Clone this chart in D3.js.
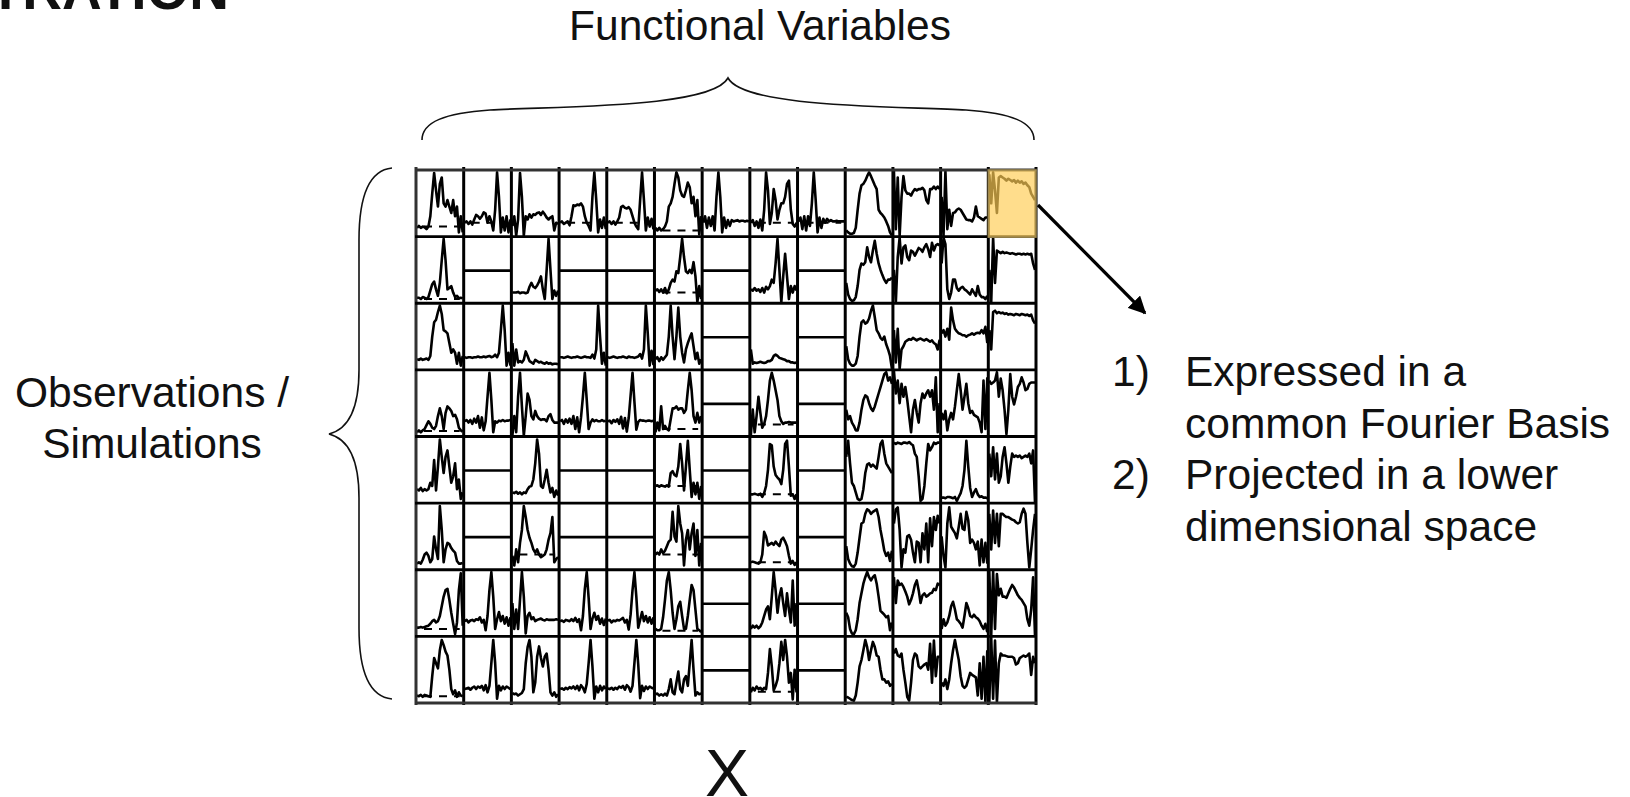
<!DOCTYPE html>
<html><head><meta charset="utf-8">
<script src="https://cdn.jsdelivr.net/npm/d3@7"></script>
<style>html,body{margin:0;padding:0;background:#fff;overflow:hidden}svg{display:block}text{font-family:"Liberation Sans",Arial,sans-serif;fill:#111}</style>
</head><body><svg id="c" width="1630" height="797"></svg>
<script>
const flat=[49,49];
const row0=[
[12,15,12,14,13,10,14,30,65,97,70,45,80,90,50,45,55,45,35,55,30,45,5,30,5],
[20,22,18,22,17,25,32,30,26,30,36,34,20,30,22,8,40,98,60,5,28,8,30,5,25],
[15,30,0,25,97,60,0,30,25,33,28,33,32,35,36,32,37,33,28,25,28,30,8,20,18],
[20,22,18,20,22,16,30,47,46,48,47,50,45,30,20,15,8,60,98,55,5,25,12,28,10],
[20,22,18,22,17,22,28,44,46,43,42,44,40,30,20,14,10,55,98,55,8,28,14,26,10],
[12,8,12,8,10,14,22,45,50,60,80,98,90,70,62,60,70,82,75,50,60,30,55,2,30],
[20,30,12,28,15,30,8,60,98,60,5,28,12,24,15,24,22,23,24,22,23,23,22,23,22],
[20,24,15,22,12,25,8,40,98,70,18,35,72,55,25,40,50,50,60,80,85,40,18,14,20],
[22,28,10,30,8,30,15,50,98,55,5,28,12,26,20,26,22,24,22,22,23,22,22,22,22],
[8,5,3,3,4,12,40,65,78,80,85,92,98,92,85,78,72,40,35,32,28,22,15,5,0],
[100,10,90,0,60,92,70,65,65,62,68,72,70,72,72,74,70,55,50,72,72,76,72,76,72],
[60,0,100,10,40,15,35,36,40,42,40,35,30,25,24,24,22,28,45,30,28,26,24,28,28],
[95,50,98,70,35,90,92,90,88,85,88,86,84,86,82,85,82,84,80,82,78,75,65,60,55]];
const row1=[
[7,7,5,8,7,5,8,18,28,32,20,10,30,65,98,65,20,22,25,15,8,10,6,7,6],
flat,
[15,15,15,16,14,15,15,14,15,24,30,24,22,26,32,40,20,5,50,98,50,5,18,10,18],
flat,flat,
[18,20,16,20,15,22,14,20,30,35,32,48,45,70,98,70,48,45,50,45,62,40,0,25,5],
flat,
[20,18,22,18,20,16,22,15,24,20,25,35,30,60,98,50,0,40,75,40,5,25,15,25,18],
flat,
[30,12,5,2,3,8,25,50,60,58,62,85,70,62,80,95,75,60,50,42,35,30,35,35,38],
[50,0,70,100,60,85,88,70,65,80,78,72,78,84,82,78,85,90,82,70,92,80,88,90,88],
[60,100,90,20,5,15,35,35,22,18,22,24,20,18,15,12,20,15,10,25,12,8,8,5,10],
[50,0,100,30,80,78,76,78,76,77,76,75,76,75,74,75,75,74,75,74,75,74,75,60,50]];
const row2=[
[15,14,16,14,15,16,14,20,50,72,76,88,98,85,60,58,55,40,25,30,25,8,25,5,20],
[18,17,18,18,17,18,18,19,18,18,19,18,19,20,18,19,22,18,25,60,98,60,5,25,5],
[40,5,30,10,12,10,14,27,20,12,10,8,14,12,10,11,9,8,10,8,9,7,8,8,7],
[18,18,17,18,19,18,17,18,18,19,18,17,18,19,18,18,17,22,16,30,98,50,8,25,5],
[18,17,18,19,18,17,18,18,19,18,17,19,18,18,17,18,19,23,16,30,98,55,5,28,6],
[15,18,12,18,14,18,22,50,98,50,15,50,95,50,25,10,30,40,48,55,35,15,25,8,15],
flat,
[30,8,10,9,10,11,10,9,10,12,12,14,20,22,20,17,16,15,14,12,12,10,10,9,10],
flat,
[35,15,8,5,5,8,20,50,72,75,70,72,78,90,98,80,60,55,48,45,50,38,30,20,0],
[60,10,62,0,30,35,42,44,46,45,48,46,44,46,47,45,44,46,44,42,44,40,38,30,45],
[55,60,50,62,45,95,75,62,58,55,54,52,52,50,52,53,55,53,55,56,55,60,55,65,40],
[60,30,88,90,86,88,86,87,85,86,84,85,84,83,85,84,83,85,84,83,84,82,84,75,70]];
const row3=[
[5,8,5,8,10,16,22,18,12,10,15,30,42,30,10,35,45,42,38,30,32,25,12,8,6],
[22,24,20,24,18,26,20,30,12,28,8,22,60,97,55,5,22,20,23,22,24,22,23,23,24],
[0,30,5,60,97,45,0,30,65,55,30,25,38,30,26,24,25,25,22,30,33,24,20,20,20],
[22,24,18,25,20,26,18,30,10,28,5,28,60,97,55,10,20,25,22,24,22,22,24,22,23],
[22,23,19,24,21,25,18,29,11,27,6,27,62,97,52,9,21,24,23,23,22,23,23,22,23],
[5,20,8,45,10,15,10,8,25,42,42,45,40,42,42,35,40,70,97,70,30,20,35,20,30],
flat,
[0,40,5,30,60,35,12,18,30,55,85,97,85,70,55,30,22,18,20,20,21,20,20,20,20],
flat,
[40,25,30,20,15,8,8,20,40,55,62,60,50,42,38,45,55,65,75,85,95,98,85,90,80],
[100,65,85,50,80,60,75,55,30,5,40,55,35,20,50,65,58,65,70,60,70,40,90,5,50],
[35,25,38,8,25,35,25,45,70,95,70,40,60,80,50,35,38,32,30,28,20,5,85,10,90],
[85,80,82,85,98,60,88,70,40,2,40,95,60,48,60,75,80,90,82,70,72,80,82,82,82]];
const row4=[
[20,18,22,17,20,18,20,30,25,65,18,55,97,70,45,70,80,55,30,40,60,20,35,5,15],
flat,
[15,14,16,13,15,12,15,14,20,24,25,35,60,97,75,25,22,35,50,30,15,22,8,18,10],
flat,flat,
[25,26,24,26,25,24,26,24,45,48,42,40,55,90,60,18,55,95,50,8,30,12,30,5,25],
flat,
[12,12,13,12,11,13,8,14,25,50,90,88,55,42,38,35,28,50,90,95,55,10,12,5,12],
flat,
[70,95,60,30,25,15,5,3,5,20,45,58,60,55,58,55,52,70,90,95,75,60,55,50,45],
[92,90,92,91,90,92,92,91,93,90,88,75,70,40,2,5,25,60,90,80,85,92,90,92,92],
[7,7,6,8,8,7,6,8,2,8,14,25,50,95,55,22,8,15,20,12,8,9,7,7,6],
[75,40,85,35,75,30,40,70,85,60,30,55,75,70,72,70,72,68,70,72,70,75,60,80,0]];
const row5=[
[8,10,8,14,22,25,20,10,15,50,30,15,97,60,10,30,40,38,32,28,25,12,8,8,9],
flat,
[20,5,30,10,40,60,97,80,60,48,40,30,25,30,22,18,20,22,30,45,55,80,10,15,18],
flat,flat,
[22,25,22,30,24,28,35,42,45,88,50,42,97,70,55,5,45,60,30,55,70,20,60,5,40],
flat,
[10,11,10,9,8,10,22,57,50,36,38,40,37,42,38,35,45,48,42,35,20,8,12,6,10],
flat,
[35,15,8,4,3,8,25,48,70,72,85,92,90,85,88,90,92,80,60,45,28,20,25,12,28],
[70,92,95,60,2,30,25,50,52,45,25,10,42,40,10,55,30,70,10,78,35,80,60,82,70],
[50,20,2,70,95,65,60,55,47,65,85,62,60,88,75,40,45,40,30,42,5,45,10,40,8],
[85,30,90,40,85,35,85,85,82,80,80,78,76,75,72,70,72,85,93,85,40,2,30,60,85]];
const row6=[
[12,12,13,12,13,14,15,18,22,24,20,22,30,45,60,70,72,55,35,18,2,20,70,96,15],
[22,24,20,23,24,22,25,24,28,20,24,8,30,70,98,60,10,25,36,22,30,18,28,15,28],
[50,10,40,10,55,98,60,3,30,35,25,28,22,24,25,26,24,23,25,24,24,24,24,25,24],
[22,23,21,24,23,22,25,22,27,21,25,8,30,72,98,58,10,26,35,24,30,18,26,16,26],
[23,24,20,23,22,24,23,25,27,20,24,9,32,70,98,60,12,24,36,22,30,20,28,18,28],
[10,8,8,10,28,55,85,98,70,35,10,25,45,52,30,10,10,30,55,78,70,40,10,8,5],
flat,
[10,15,12,15,11,14,20,30,40,45,25,60,98,70,35,60,73,50,30,65,40,20,85,15,50],
flat,
[35,28,10,3,2,8,25,50,65,80,90,98,90,85,90,93,80,60,38,35,32,28,30,8,20],
[90,50,85,78,80,75,68,60,48,55,65,78,85,70,50,62,65,60,62,65,66,72,70,80,78],
[10,25,15,20,30,45,52,40,25,22,18,12,30,50,42,30,28,32,28,26,22,15,10,18,5],
[100,0,100,10,95,62,72,60,60,58,65,72,78,74,68,62,58,55,50,45,25,15,40,90,0]];
const row7=[
[10,9,11,8,11,10,9,8,40,68,60,52,80,96,88,78,72,50,20,12,18,8,15,10,9],
[20,21,22,19,22,24,20,24,22,25,18,26,15,25,60,96,60,5,25,18,24,20,24,22,20],
[14,12,13,10,12,14,20,60,85,96,70,15,30,70,86,68,55,70,75,50,15,10,15,8,12],
[20,21,19,22,20,23,21,24,20,25,18,26,22,15,28,60,96,55,5,24,15,25,18,24,20],
[21,20,22,19,22,20,24,22,25,19,26,23,16,25,60,96,58,6,25,17,24,20,24,22,21],
[12,13,10,12,10,13,10,20,35,15,12,30,47,20,15,35,40,25,60,96,50,10,15,12,13],
flat,
[15,22,18,24,20,22,18,22,20,45,82,55,18,25,35,60,93,65,96,70,30,45,4,50,15],
flat,
[8,7,5,3,2,10,30,55,65,80,96,85,65,80,93,85,72,70,50,35,35,30,32,25,28],
[75,82,72,70,75,50,30,8,2,30,65,75,72,55,52,55,58,60,50,90,30,95,40,70,70],
[30,25,35,20,35,60,80,96,80,65,40,25,22,25,35,45,42,40,38,10,60,5,70,0,80],
[0,100,5,95,0,60,75,72,72,71,70,70,70,68,58,60,68,70,72,70,72,75,42,70,60]];
const rows=[row0,row1,row2,row3,row4,row5,row6,row7];
// dashed reference levels: [row, column, level]
const dashRow=[0,0,0,0,0,0,0,1,1,3,3,3,4,4,5,5,5,6,6,7,7];
const dashCol=[0,1,3,4,5,7,8,0,5,0,5,7,5,7,2,5,7,0,5,0,7];
const dashLevel=[14,20,20,20,8,20,20,5,15,7,10,17,25,12,22,22,10,10,7,9,16];
const highlightRow=0, highlightCol=12;
const listNumbers=["1)","","2)",""];
const listLines=["Expressed in a","common Fourier Basis","Projected in a lower","dimensional space"];
const sideLines=["Observations /","Simulations"];

const svg=d3.select("#c");
const X=d3.scaleBand().domain(d3.range(13)).range([416,1036]);
const Y=d3.scaleBand().domain(d3.range(8)).range([170,703]);
const defs=svg.append("defs");
defs.append("filter").attr("id","soft").attr("x","-2%").attr("y","-2%").attr("width","104%").attr("height","104%")
  .append("feGaussianBlur").attr("stdDeviation",0.6);
defs.append("marker").attr("id","head").attr("viewBox","0 0 10 10").attr("refX",9).attr("refY",5)
  .attr("markerWidth",5.5).attr("markerHeight",5.5).attr("markerUnits","strokeWidth").attr("orient","auto")
  .append("path").attr("d","M0,0L10,5L0,10Z").attr("fill","#000");

const chart=svg.append("g").attr("filter","url(#soft)");
const line=d3.line();
rows.forEach((row,r)=>{
  row.forEach((vals,c)=>{
    const x=d3.scaleLinear().domain([0,vals.length-1]).range(vals===flat?[X(c),X(c)+X.bandwidth()]:[X(c)+1,X(c)+X.bandwidth()-1]);
    const y=d3.scaleLinear().domain([0,100]).range([Y(r)+Y.bandwidth()-1,Y(r)+1]);
    chart.append("path").attr("d",line.x((d,i)=>x(i)).y(d=>y(d))(vals))
      .attr("fill","none").attr("stroke","#000").attr("stroke-width",vals===flat?2.6:2.6).attr("stroke-linejoin","round");
  });
});
dashRow.forEach((r,i)=>{
  const c=dashCol[i], y=d3.scaleLinear().domain([0,100]).range([Y(r)+Y.bandwidth()-1,Y(r)+1]);
  chart.append("line").attr("x1",X(c)+8).attr("x2",X(c)+X.bandwidth()-4)
    .attr("y1",y(dashLevel[i])).attr("y2",y(dashLevel[i]))
    .attr("stroke","#000").attr("stroke-width",2).attr("stroke-dasharray","8 7");
});
d3.range(14).forEach(i=>{
  const px=i<13?X(i):1036;
  chart.append("line").attr("x1",px).attr("x2",px).attr("y1",167).attr("y2",705)
    .attr("stroke",i===0?"#333":"#000").attr("stroke-width",3);
});
d3.range(9).forEach(i=>{
  const py=i<8?Y(i):703;
  chart.append("line").attr("x1",415).attr("x2",1037).attr("y1",py).attr("y2",py)
    .attr("stroke",(i===0||i===8)?"#333":"#000").attr("stroke-width",2.8);
});
svg.append("rect").attr("x",X(highlightCol)).attr("y",Y(highlightRow)).attr("width",X.bandwidth()).attr("height",Y.bandwidth()+0.5)
  .attr("fill","#ffcd55").attr("fill-opacity",0.68).attr("stroke","#a08a50").attr("stroke-width",1.5);

// braces
svg.append("path").attr("fill","none").attr("stroke","#111").attr("stroke-width",1.6)
 .attr("d","M422,140 C422,122 445,113 490,110 C560,106 712,108 728,78 C744,108 896,106 966,110 C1011,113 1034,122 1034,140");
svg.append("path").attr("fill","none").attr("stroke","#111").attr("stroke-width",1.6)
 .attr("d","M392,168 C372,170 359,190 359,240 L359,370 C359,415 345,430 329,434 C345,438 359,453 359,498 L359,628 C359,678 372,697 392,699");
// arrow
svg.append("line").attr("x1",1038).attr("y1",205).attr("x2",1145).attr("y2",313)
  .attr("stroke","#000").attr("stroke-width",3.2).attr("marker-end","url(#head)");

// text
svg.append("text").attr("x",760).attr("y",39.5).attr("text-anchor","middle").attr("font-size",42.5).text("Functional Variables");
svg.append("text").attr("x",229).attr("y",9).attr("text-anchor","end").attr("font-size",55).attr("font-weight","bold").text("TRATION");
svg.append("text").attr("x",727).attr("y",796).attr("text-anchor","middle").attr("font-size",66).text("X");
sideLines.forEach((t,i)=>svg.append("text").attr("x",152).attr("y",407+i*51).attr("text-anchor","middle").attr("font-size",42.5).text(t));
listLines.forEach((t,i)=>{
  const by=386+i*51.5;
  if(listNumbers[i]) svg.append("text").attr("x",1112).attr("y",by).attr("font-size",42.5).text(listNumbers[i]);
  svg.append("text").attr("x",1185).attr("y",by).attr("font-size",42.5).text(t);
});
</script></body></html>
